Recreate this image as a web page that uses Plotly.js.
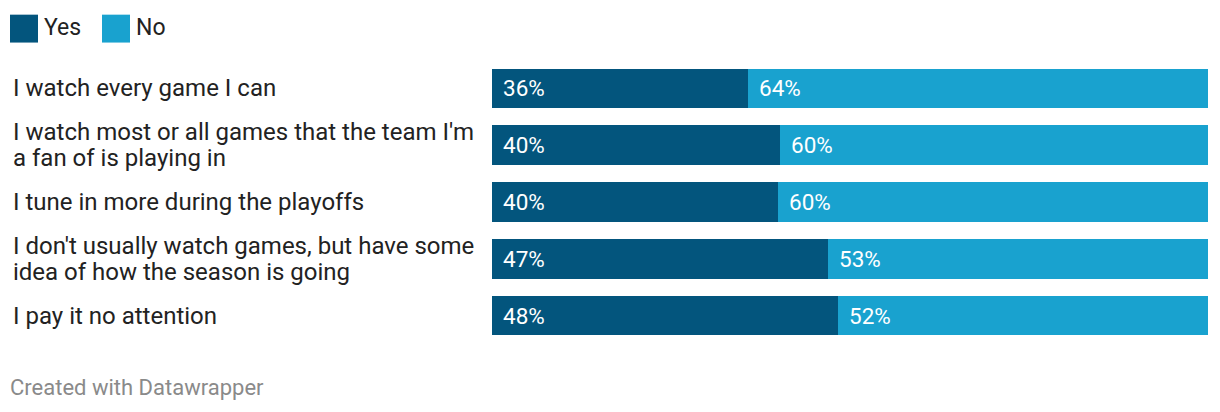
<!DOCTYPE html>
<html>
<head>
<meta charset="utf-8">
<script src="https://cdn.plot.ly/plotly-3.0.1.min.js"></script>
<style>html,body{margin:0;padding:0;background:#fff;}#chart{width:1220px;height:412px;}</style>
</head>
<body>
<div id="chart"></div>
<script>
var categories = [
  "I watch every game I can",
  "I watch most or all games that the team I'm<br>a fan of is playing in",
  "I tune in more during the playoffs",
  "I don't usually watch games, but have some<br>idea of how the season is going",
  "I pay it no attention"
];
var yesValues = [35.7, 40.2, 39.9, 46.9, 48.3];
var noValues  = [64.3, 59.8, 60.1, 53.1, 51.7];
var seriesNames = ["Yes", "No"];
var colors = ["#03557d", "#19a2cf"];

var W = 1220, H = 412;
var mL = 492, mR = 12, mT = 59.5, mB = 67.5;
var pw = W - mL - mR, ph = H - mT - mB;
function px2x(p){ return (p - mL) / pw; }
function px2y(p){ return (H - mB - p) / ph; }

var ids = categories.map(function(c, i){ return i; });

var traces = [
  {type:'bar', orientation:'h', y: ids, x: yesValues, name: seriesNames[0],
   marker:{color: colors[0]}, hoverinfo:'none'},
  {type:'bar', orientation:'h', y: ids, x: noValues, name: seriesNames[1],
   marker:{color: colors[1]}, hoverinfo:'none'}
];

var annotations = [];
var font = "Roboto, 'Noto Sans', sans-serif";
var lineGap = 26;
categories.forEach(function(c, i){
  var lines = c.split('<br>');
  lines.forEach(function(ln, j){
    var off = (j - (lines.length - 1) / 2) * lineGap;
    annotations.push({xref:'paper', yref:'y', x: px2x(11), y: i, yshift: -off, text: ln, showarrow:false,
      xanchor:'left', yanchor:'middle', align:'left',
      font:{family:font, size:24, color:'#222'}});
  });
  annotations.push({xref:'x', yref:'y', x: 0, y: i, xshift: 9, text: Math.round(yesValues[i]) + '%',
    showarrow:false, xanchor:'left', yanchor:'middle', font:{family:font, size:22.5, color:'#fff'}});
  annotations.push({xref:'x', yref:'y', x: yesValues[i], y: i, xshift: 9, text: Math.round(noValues[i]) + '%',
    showarrow:false, xanchor:'left', yanchor:'middle', font:{family:font, size:22.5, color:'#fff'}});
});

// legend
var shapes = [];
var legendX = [10, 102];
seriesNames.forEach(function(n, k){
  shapes.push({type:'rect', xref:'paper', yref:'paper',
    x0: px2x(legendX[k]), x1: px2x(legendX[k] + 28), y0: px2y(42), y1: px2y(14),
    fillcolor: colors[k], line:{width:0}});
  annotations.push({xref:'paper', yref:'paper', x: px2x(legendX[k] + 32), y: px2y(27),
    text: n, showarrow:false, xanchor:'left', yanchor:'middle',
    font:{family:font, size:23, color:'#222'}});
});

annotations.push({xref:'paper', yref:'paper', x: px2x(8), y: px2y(388),
  text: 'Created with Datawrapper', showarrow:false, xanchor:'left', yanchor:'middle',
  font:{family:font, size:22, color:'#8a8a8a'}});

var layout = {
  width: W, height: H,
  margin:{l:mL, r:mR, t:mT, b:mB, pad:0},
  barmode:'stack', bargap:0.3,
  showlegend:false,
  paper_bgcolor:'#fff', plot_bgcolor:'#fff',
  xaxis:{range:[0,100], visible:false, fixedrange:true},
  yaxis:{range:[4.5,-0.5], visible:false, fixedrange:true},
  annotations: annotations,
  shapes: shapes
};

Plotly.newPlot('chart', traces, layout, {displayModeBar:false, staticPlot:true});
</script>
</body>
</html>
